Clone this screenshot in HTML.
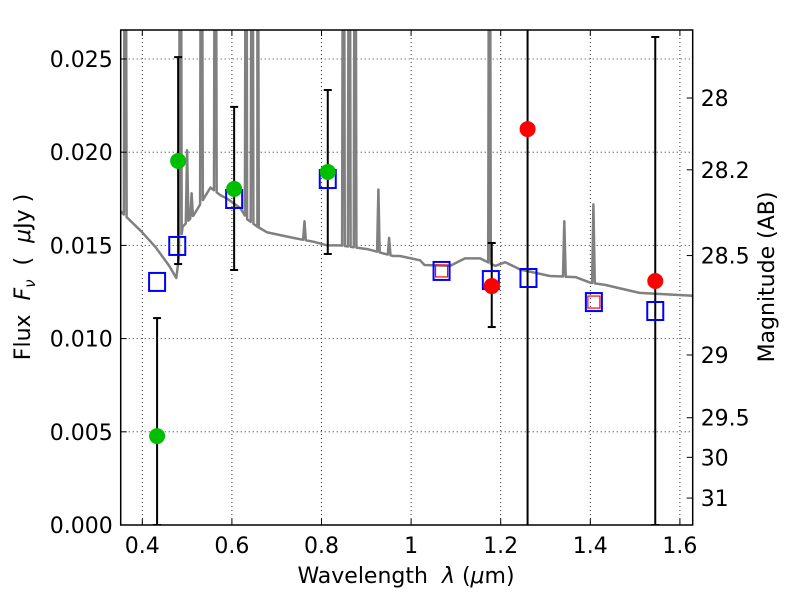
<!DOCTYPE html>
<html><head><meta charset="utf-8"><style>
html,body{margin:0;padding:0;background:#fff;width:800px;height:600px;overflow:hidden;}
svg{display:block;font-family:"DejaVu Sans","Liberation Sans",sans-serif;}
text{white-space:pre;}
</style></head><body>
<svg id="chart" width="800" height="600" viewBox="0 0 800 600"></svg>
<script>
const xTicks=[0.4,0.6,0.8,1.0,1.2,1.4,1.6];
const xTickLabels=["0.4","0.6","0.8","1","1.2","1.4","1.6"];
const yTicks=[0,0.005,0.01,0.015,0.02,0.025];
const yTickLabels=["0.000","0.005","0.010","0.015","0.020","0.025"];
const magTicks=[28,28.2,28.5,29,29.5,30,31];
const magTickLabels=["28","28.2","28.5","29","29.5","30","31"];
const contLam=[0.353,0.37,0.40,0.43,0.46,0.476,0.49,0.514,0.552,0.574,0.59,0.619,0.634,0.657,0.679,0.737,0.782,0.813,0.842,0.902,0.96,0.975,1.02,1.03,1.087,1.12,1.154,1.188,1.21,1.244,1.31,1.367,1.40,1.433,1.51,1.628];
const contFlux=[0.0168,0.0164,0.0157,0.0149,0.0139,0.01325,0.0160,0.0166,0.0181,0.0177,0.0175,0.0170,0.0164,0.0160,0.0157,0.0154,0.0152,0.0150,0.0150,0.0148,0.01443,0.01443,0.0142,0.01395,0.0139,0.0143,0.0143,0.0139,0.0141,0.0137,0.01336,0.0133,0.0130,0.01288,0.01245,0.0123];
const lineLam=[0.362,0.485,0.50,0.51,0.532,0.563,0.632,0.645,0.657,0.762,0.849,0.862,0.875,0.927,0.951,1.175,1.342,1.407];
const linePeak=[0.05,0.05,0.0201,0.0178,0.05,0.05,0.05,0.05,0.05,0.0163,0.05,0.05,0.05,0.018,0.0154,0.05,0.0163,0.0172];
const greenLam=[0.433,0.48,0.605,0.814];
const greenFlux=[0.00477,0.01953,0.01803,0.01894];
const redLam=[1.18,1.26,1.545];
const redFlux=[0.01282,0.02124,0.01309];
const errLam=[0.433,0.48,0.605,0.814,1.18,1.26,1.545];
const errLo=[0.0,0.0140,0.01368,0.01454,0.01062,-0.01,0.0];
const errHi=[0.0111,0.0251,0.02243,0.02334,0.01513,0.05,0.02618];
const blueLam=[0.433,0.478,0.605,0.814,1.068,1.178,1.262,1.408,1.545];
const blueFlux=[0.01304,0.01497,0.01749,0.01856,0.01363,0.01314,0.01325,0.01196,0.01148];
const redSqLam=[1.068,1.408];
const redSqFlux=[0.01363,0.01196];

const L=120.7,R=692.7,T=30,B=525;
const X=v=>142.3+(v-0.4)*448;
const Y=v=>B-v*18640;
const M=m=>Y(Math.pow(10,(23.9-m)/2.5));
const svg=document.getElementById('chart');
const NS='http://www.w3.org/2000/svg';
function mk(tag,attrs,parent){const e=document.createElementNS(NS,tag);for(const k in attrs)e.setAttribute(k,attrs[k]);(parent||svg).appendChild(e);return e;}

const defs=mk('defs',{});
const cp=mk('clipPath',{id:'plotclip'},defs);
mk('rect',{x:L,y:T,width:R-L,height:B-T},cp);

const grid=mk('g',{});


xTicks.forEach(t=>{const l=mk('line',{x1:X(t),x2:X(t),y1:T,y2:B,stroke:'#000','stroke-width':0.8,'stroke-dasharray':'1,3'},grid);

});
yTicks.forEach(t=>{const l=mk('line',{x1:L,x2:R,y1:Y(t),y2:Y(t),stroke:'#000','stroke-width':0.8,'stroke-dasharray':'1,3'},grid);

});

const pts=[];
contLam.forEach((l,i)=>pts.push([l,contFlux[i]]));
function cont(l){for(let i=0;i<contLam.length-1;i++){if(l>=contLam[i]&&l<=contLam[i+1]){const f=(l-contLam[i])/(contLam[i+1]-contLam[i]);return contFlux[i]+f*(contFlux[i+1]-contFlux[i]);}}return contFlux[contFlux.length-1];}
lineLam.forEach((l,i)=>{const w=0.003;pts.push([l-w,cont(l-w)]);pts.push([l,linePeak[i]]);pts.push([l+w,cont(l+w)]);});
pts.sort((a,b)=>a[0]-b[0]);
const spec=mk('polyline',{points:pts.map(p=>X(p[0]).toFixed(1)+','+Y(p[1]).toFixed(1)).join(' '),fill:'none',stroke:'#808080','stroke-width':2.5,'clip-path':'url(#plotclip)','stroke-linejoin':'round','stroke-linecap':'round'});



const eg=mk('g',{'clip-path':'url(#plotclip)'});
errLam.forEach((l,i)=>{
  const g=mk('g',{},eg);
  
  
  mk('line',{x1:X(l),x2:X(l),y1:Y(errLo[i]),y2:Y(errHi[i]),stroke:'#000','stroke-width':2},g);
  [errLo[i],errHi[i]].forEach(v=>mk('line',{x1:X(l)-4,x2:X(l)+4,y1:Y(v),y2:Y(v),stroke:'#000','stroke-width':2},g));
});

blueLam.forEach((l,i)=>{const r=mk('rect',{x:X(l)-8,y:Y(blueFlux[i])-9,width:16,height:18,fill:'none',stroke:'#0000ff','stroke-width':2});

});
redSqLam.forEach((l,i)=>{const r=mk('rect',{x:X(l)-6,y:Y(redSqFlux[i])-6,width:12,height:12,fill:'none',stroke:'#ff0000','stroke-width':1.2});

});

greenLam.forEach((l,i)=>{const c=mk('circle',{cx:X(l),cy:Y(greenFlux[i]),r:8,fill:'#00bf00'});

});
redLam.forEach((l,i)=>{const c=mk('circle',{cx:X(l),cy:Y(redFlux[i]),r:8,fill:'#ff0000'});

});

const fr=mk('rect',{x:L,y:T,width:R-L,height:B-T,fill:'none',stroke:'#000','stroke-width':1.5});



xTicks.forEach((t,i)=>{
  mk('line',{x1:X(t),x2:X(t),y1:B,y2:B-6,stroke:'#000'});
  mk('line',{x1:X(t),x2:X(t),y1:T,y2:T+6,stroke:'#000'});
  const tx=mk('text',{x:X(t),y:B+28,'font-size':22,'text-anchor':'middle'});tx.textContent=xTickLabels[i];
  
  
});
yTicks.forEach((t,i)=>{
  mk('line',{x1:L,x2:L+6,y1:Y(t),y2:Y(t),stroke:'#000'});
  const tx=mk('text',{x:L-8,y:Y(t)+8,'font-size':22,'text-anchor':'end'});tx.textContent=yTickLabels[i];
  
  
});
magTicks.forEach((m,i)=>{
  mk('line',{x1:R,x2:R-6,y1:M(m),y2:M(m),stroke:'#000'});
  const tx=mk('text',{x:R+8,y:M(m)+8,'font-size':22,'text-anchor':'start'});tx.textContent=magTickLabels[i];
  
  
});

const xl=mk('text',{x:406,y:583,'font-size':22,'text-anchor':'middle'});
xl.innerHTML='Wavelength  <tspan font-style="italic">λ</tspan> (<tspan font-style="italic">μ</tspan>m)';


const yl=mk('text',{x:0,y:0,'font-size':22,'text-anchor':'middle',transform:'translate(30,277) rotate(-90)'});
yl.innerHTML='Flux  <tspan font-style="italic">F</tspan><tspan font-style="italic" font-size="15" dy="5">ν</tspan><tspan dy="-5">  (  </tspan><tspan font-style="italic">μ</tspan>Jy )';


const rl=mk('text',{x:0,y:0,'font-size':22,'text-anchor':'middle',transform:'translate(774,277) rotate(-90)'});
rl.textContent='Magnitude (AB)';


</script>
</body></html>
